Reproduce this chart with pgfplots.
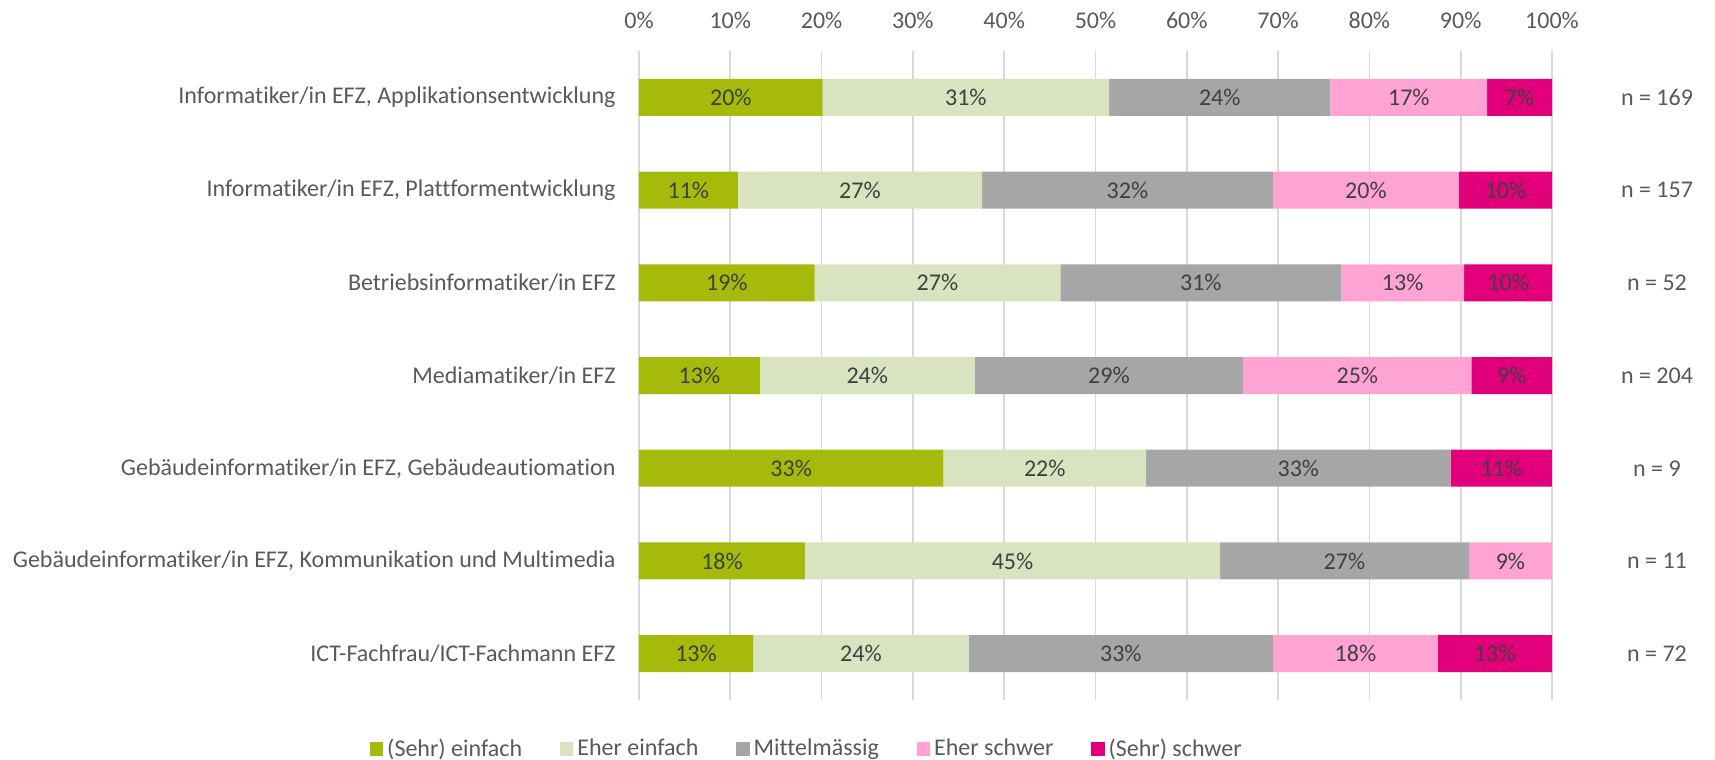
\documentclass[border=0pt]{standalone}
\usepackage{fontspec}
\setmainfont{Carlito}[Ligatures={NoCommon}]
\usepackage{pgfplots}
\pgfplotsset{compat=1.18}
\definecolor{cA}{HTML}{A5BA0A}
\definecolor{cB}{HTML}{D8E4BF}
\definecolor{cC}{HTML}{A6A6A6}
\definecolor{cD}{HTML}{FFA3D4}
\definecolor{cE}{HTML}{E2007A}
\definecolor{txt}{HTML}{595959}
\definecolor{lbl}{HTML}{404040}
\definecolor{gridc}{HTML}{D9D9D9}
\begin{document}
\begin{tikzpicture}[x=1pt,y=1pt]
\useasboundingbox (0,0) rectangle (857.5,380);
\pgfplotsset{common/.style={scale only axis, width=456.5pt, height=324.5pt,
  xmin=0, xmax=100, ymin=0.5, ymax=7.5, y dir=reverse,
  at={(319.5pt,30pt)}, anchor=south west}}
\begin{axis}[common, xbar stacked, bar width=18.5pt,
  axis line style={draw=none}, major tick length=0pt,
  xtick={0,10,...,100},
  xticklabels={0\%,10\%,20\%,30\%,40\%,50\%,60\%,70\%,80\%,90\%,100\%},
  xticklabel pos=upper,
  xticklabel style={anchor=center, yshift=15.5pt},
  xmajorgrids, grid style={color=gridc, line width=0.8pt},
  ytick={1,...,7},
  yticklabels={{Informatiker/in EFZ, Applikationsentwicklung},
    {Informatiker/in EFZ, Plattformentwicklung},
    {Betriebsinformatiker/in EFZ},
    {Mediamatiker/in EFZ},
    {Gebäudeinformatiker/in EFZ, Gebäudeautiomation},
    {Gebäudeinformatiker/in EFZ, Kommunikation und Multimedia},
    {ICT-Fachfrau/ICT-Fachmann EFZ}},
  yticklabel style={anchor=east, xshift=-8.2pt},
  tick label style={font=\fontsize{12}{14}\selectfont, text=txt},
  legend columns=5,
  legend image code/.code={\fill[#1] (0pt,-3.3pt) rectangle (6.6pt,3.3pt);},
  legend style={at={(0.1850,-0.0755)}, anchor=center, draw=none, fill=none,
    font=\fontsize{12}{14}\selectfont, text=txt,
    /tikz/every even column/.append style={column sep=17pt}},
]
\addplot[fill=cA, draw=none] coordinates {(20.118,1) (10.828,2) (19.231,3) (13.235,4) (33.333,5) (18.182,6) (12.5,7)};
\addplot[fill=cB, draw=none] coordinates {(31.361,1) (26.752,2) (26.923,3) (23.529,4) (22.222,5) (45.455,6) (23.611,7)};
\addplot[fill=cC, draw=none] coordinates {(24.260,1) (31.847,2) (30.769,3) (29.412,4) (33.333,5) (27.273,6) (33.333,7)};
\addplot[fill=cD, draw=none] coordinates {(17.160,1) (20.382,2) (13.462,3) (25.0,4) (0,5) (9.091,6) (18.056,7)};
\addplot[fill=cE, draw=none] coordinates {(7.101,1) (10.191,2) (9.615,3) (8.824,4) (11.111,5) (0,6) (12.5,7)};
\legend{(Sehr) einfach, Eher einfach, Mittelmässig, Eher schwer, (Sehr) schwer}
\end{axis}
\begin{axis}[common, hide axis, clip=false]
\addplot[only marks, mark=*, mark size=0pt, mark options={draw=none, fill=none},
  nodes near coords, point meta=explicit symbolic,
  every node near coord/.append style={anchor=center, text=lbl, font=\fontsize{12}{14}\selectfont}]
coordinates {
(10.06,1) [20\%] (35.80,1) [31\%] (63.61,1) [24\%] (84.32,1) [17\%] (96.45,1) [7\%]
(5.41,2) [11\%] (24.20,2) [27\%] (53.50,2) [32\%] (79.62,2) [20\%] (94.90,2) [10\%]
(9.62,3) [19\%] (32.69,3) [27\%] (61.54,3) [31\%] (83.65,3) [13\%] (95.19,3) [10\%]
(6.62,4) [13\%] (25.00,4) [24\%] (51.47,4) [29\%] (78.68,4) [25\%] (95.59,4) [9\%]
(16.67,5) [33\%] (44.44,5) [22\%] (72.22,5) [33\%] (94.44,5) [11\%]
(9.09,6) [18\%] (40.91,6) [45\%] (77.27,6) [27\%] (95.45,6) [9\%]
(6.25,7) [13\%] (24.31,7) [24\%] (52.78,7) [33\%] (78.47,7) [18\%] (93.75,7) [13\%]
};
\addplot[only marks, mark=*, mark size=0pt, mark options={draw=none, fill=none},
  nodes near coords, point meta=explicit symbolic,
  every node near coord/.append style={anchor=center, text=txt, font=\fontsize{12}{14}\selectfont}]
coordinates {
(111.5,1) [n = 169] (111.5,2) [n = 157] (111.5,3) [n = 52] (111.5,4) [n = 204]
(111.5,5) [n = 9] (111.5,6) [n = 11] (111.5,7) [n = 72]
};
\end{axis}
\end{tikzpicture}
\end{document}
